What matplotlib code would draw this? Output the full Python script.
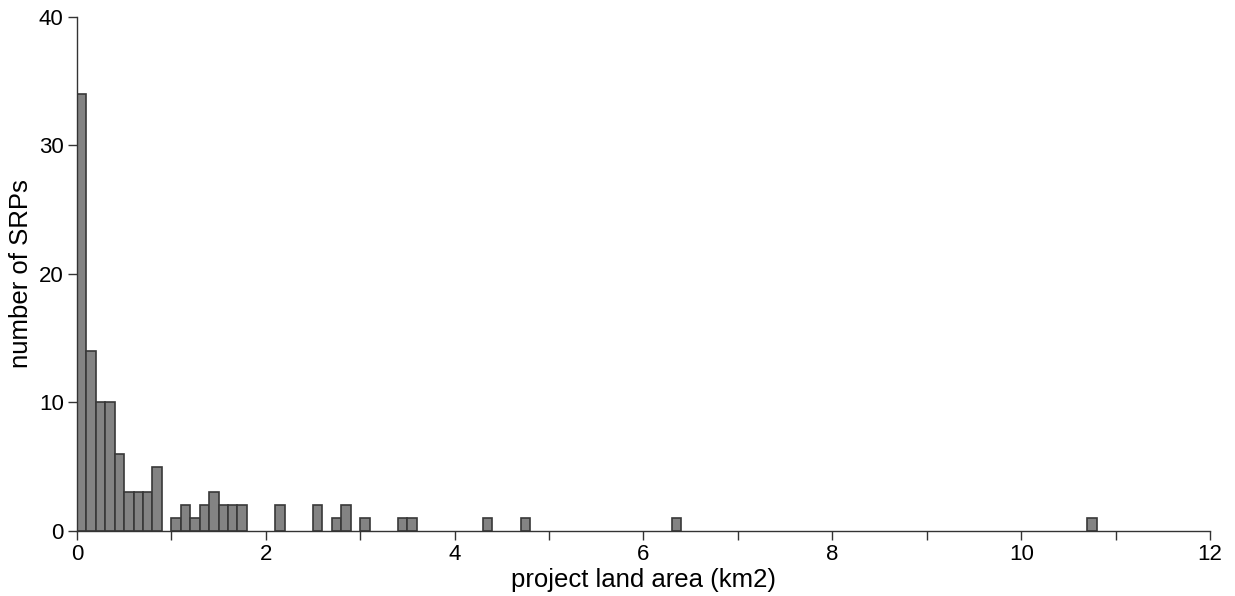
import matplotlib as mpl
import matplotlib.pyplot as plt
import numpy

mpl.rcParams['font.family'] = ['Liberation Sans', 'DejaVu Sans']

# left edge of each 0.1 km2 bin and the number of SRPs in it
binLeft = [0.0, 0.1, 0.2, 0.3, 0.4, 0.5, 0.6, 0.7, 0.8,
           1.0, 1.1, 1.2, 1.3, 1.4, 1.5, 1.6, 1.7,
           2.1, 2.5, 2.7, 2.8, 3.0, 3.4, 3.5,
           4.3, 4.7, 6.3, 10.7]
counts = [34, 14, 10, 10, 6, 3, 3, 3, 5,
          1, 2, 1, 2, 3, 2, 2, 2,
          2, 2, 1, 2, 1, 1, 1,
          1, 1, 1, 1]
binWidth = 0.1

xticks = numpy.arange(0, 13, 2)
xminor = numpy.arange(1, 12, 2)
yticks = [0, 10, 20, 30, 40]

fig = plt.figure(figsize=(12.35, 5.96), dpi=100)
ax = fig.add_axes([0.0623, 0.1091, 0.9175, 0.8624])

ax.bar(binLeft, counts, width=binWidth, align='edge',
       color='#838383', edgecolor='#383838', linewidth=1.2)

ax.set_xlim(0, 12)
ax.set_ylim(0, 40)
ax.set_xticks(xticks)
ax.set_xticks(xminor, minor=True)
ax.set_yticks(yticks)
ax.tick_params(axis='both', which='both', direction='out', length=6.5,
               width=1, color='#333333', labelsize=16, pad=3)
ax.spines['top'].set_visible(False)
ax.spines['right'].set_visible(False)
for s in ['left', 'bottom']:
    ax.spines[s].set_color('#333333')
    ax.spines[s].set_linewidth(1)

ax.set_xlabel('project land area (km2)', fontsize=18.5, labelpad=2)
ax.set_ylabel('number of SRPs', fontsize=18.5, labelpad=4)

fig.savefig('out.png', dpi=100)
